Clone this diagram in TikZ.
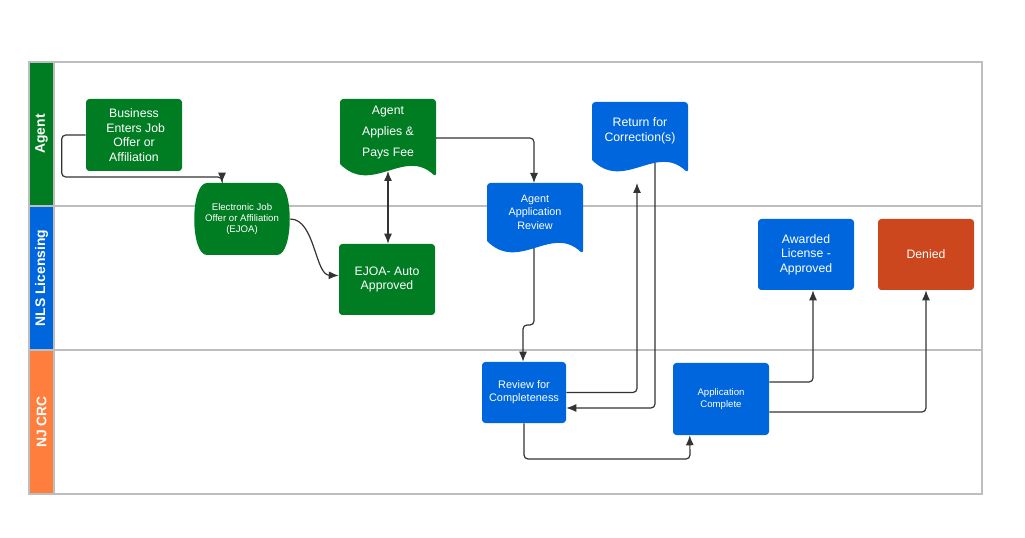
\documentclass[tikz,border=0pt]{standalone}
\usepackage{fontspec}
\setmainfont{Liberation Sans}
\usetikzlibrary{arrows.meta,calc}
\definecolor{lgreen}{RGB}{0,125,35}
\definecolor{lblue}{RGB}{0,102,221}
\definecolor{lorange}{RGB}{255,125,61}
\definecolor{lred}{RGB}{204,70,30}
\definecolor{lgray}{RGB}{190,190,190}
\definecolor{lline}{RGB}{51,51,51}
\newcommand{\docfill}[5]{%
  \fill[#5] ({#1},{#4-13}) [rounded corners=2.5pt] -- ({#1},{#2}) -- ({#3},{#2}) -- ({#3},{#4}) [sharp corners]
    .. controls ({#1+2*(#3-#1)/3},{#4-30}) and ({#1+(#3-#1)/3},{#4+19}) .. ({#1},{#4-13}) -- cycle;}
\begin{document}
\begin{tikzpicture}[x=0.75pt,y=-0.75pt,
  box/.style={rounded corners=2.5pt, text=white, align=center, inner sep=0pt,
    minimum width=72pt, minimum height=54pt, font=\fontsize{9.2}{11}\selectfont},
  txt/.style={text=white, align=center, inner sep=0pt, font=\fontsize{9.2}{11}\selectfont},
  conn/.style={draw=lline, line width=0.9pt, rounded corners=3pt, -{Latex[length=7.5pt,width=6pt]}},
  dconn/.style={draw=lline, line width=0.9pt, {Latex[length=7.5pt,width=6pt]}-{Latex[length=7.5pt,width=6pt]}},
  lane/.style={text=white, rotate=90, font=\bfseries\fontsize{10.4}{12}\selectfont},
  frame/.style={draw=lgray, line width=1.1pt}]
\useasboundingbox (0,0) rectangle (1025,538);
% lanes
\fill[lgreen] (29,62) rectangle (54,206);
\fill[lblue] (29,206) rectangle (54,350);
\fill[lorange] (29,350) rectangle (54,494);
\draw[frame] (29,62) rectangle (982,494);
\draw[frame] (29,206) -- (982,206);
\draw[frame] (29,350) -- (982,350);
\draw[frame] (54,62) -- (54,494);
\node[lane] (lagent) at (41.5,134) {Agent};
\node[lane] (lnls) at (41.5,278) {NLS Licensing};
\node[lane] (lnj) at (41.5,422) {NJ CRC};
% shapes
\fill[lgreen] (207,183) -- (277,183) .. controls (294,183) and (294,255) .. (277,255) -- (207,255) .. controls (190,255) and (190,183) .. (207,183) -- cycle;
\docfill{340}{99}{436}{177}{lgreen}
\docfill{487}{183}{583}{254}{lblue}
\docfill{592}{102}{688}{173}{lblue}
% nodes
\node[box, fill=lgreen] (bus) at (134,135) {Business\\ \ Enters Job\\Offer or\\Affiliation};
\node[txt, minimum width=72pt, minimum height=54pt, font=\fontsize{7.2}{8.6}\selectfont] (ejoa) at (242,219) {Electronic Job\\Offer or Affiliation\\(EJOA)};
\node[txt, minimum width=72pt, font=\fontsize{9.2}{15.75}\selectfont] (aap) at (388,133) {Agent\\Applies \&\\Pays Fee};
\node[box, fill=lgreen, minimum height=53.25pt] (ea) at (387,279.5) {EJOA- Auto\\Approved};
\node[txt, minimum width=72pt, font=\fontsize{8.1}{10.1}\selectfont] (aar) at (535,212) {Agent\\Application\\Review};
\node[txt, minimum width=72pt, font=\fontsize{9.2}{11.25}\selectfont] (ret) at (640,131) {Return for\\Correction(s)};
\node[box, fill=lblue, minimum height=53.25pt] (aw) at (806,254.5) {Awarded\\License -\\Approved};
\node[box, fill=lred, minimum height=53.25pt] (den) at (926,254.5) {Denied};
\node[box, fill=lblue, minimum width=63pt, minimum height=45.75pt, font=\fontsize{8.2}{9.75}\selectfont] (rev) at (524,392.5) {Review for\\Completeness};
\node[box, fill=lblue, font=\fontsize{7.2}{8.6}\selectfont] (ac) at (721,399) {Application\\Complete};
% connector points
\coordinate (c1) at (222,177);
\coordinate (aapR) at (436,138);
\coordinate (aapB) at (388,171);
\coordinate (aarT) at (534,183);
\coordinate (aarB) at (534,248);
\coordinate (retB) at (655,163);
\coordinate (retIn) at (637,183);
% connectors
\draw[conn] (bus.west) -- ++(-24,0) |- (c1) -- (c1 |- ejoa.north);
\draw[conn] (ejoa.east) .. controls (315,219) and (315,275) .. ($(ea.west)+(0,-4)$);
\draw[dconn] (aapB) -- (aapB |- ea.north);
\draw[conn] (aapR) -| (aarT);
\draw[conn] (aarB) -- (534,325) -- (523,325) -- (rev.north -| 523,0);
\draw[conn] (rev.east) -| (retIn);
\draw[conn] (retB) |- ($(rev.east)+(0,15.5)$);
\draw[conn] (rev.south) |- (690,459) -- ($(ac.south west)+(17,0)$);
\draw[conn] ($(ac.east)+(0,-17)$) -| ($(aw.south)+(7,0)$);
\draw[conn] ($(ac.east)+(0,13)$) -| (den.south);
\end{tikzpicture}
\end{document}
